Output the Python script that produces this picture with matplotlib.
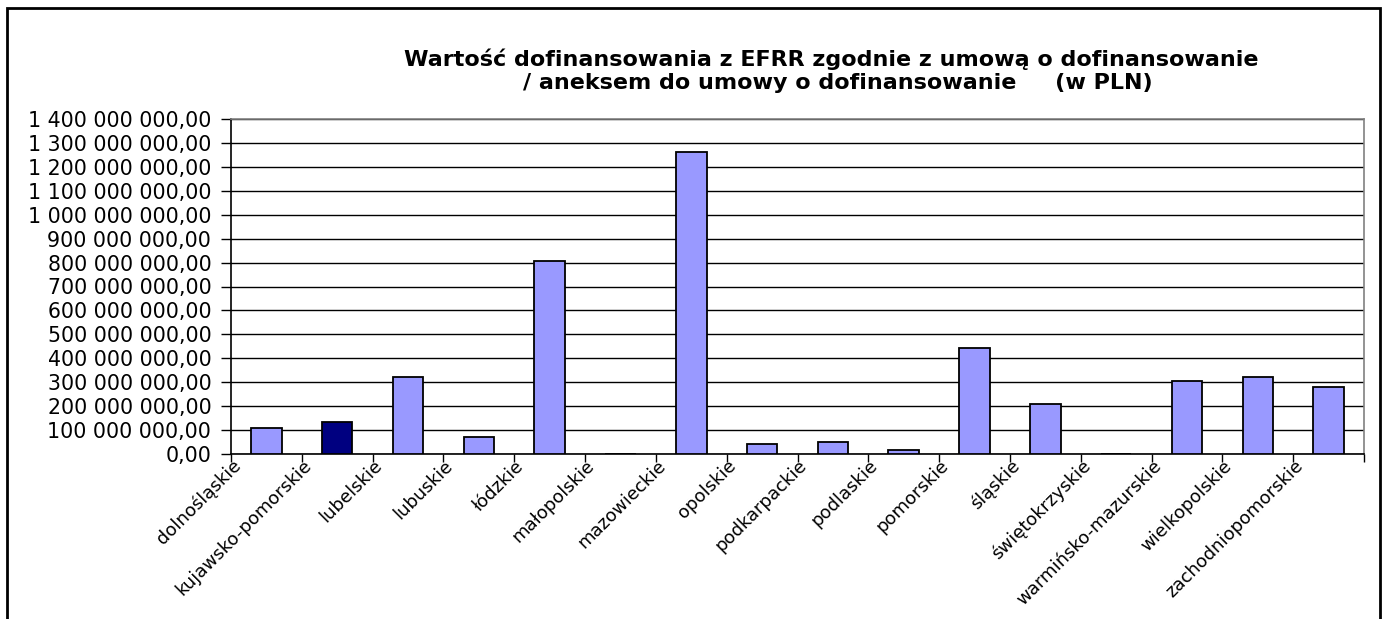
import numpy as np
import matplotlib
matplotlib.use('Agg')
import matplotlib.pyplot as plt
import matplotlib.transforms as mtransforms
from matplotlib.patches import Rectangle
from matplotlib.ticker import FuncFormatter, MultipleLocator

# voivodeships and EFRR co-financing values (PLN)
regions = ['dolnośląskie', 'kujawsko-pomorskie', 'lubelskie', 'lubuskie', 'łódzkie',
           'małopolskie', 'mazowieckie', 'opolskie', 'podkarpackie', 'podlaskie',
           'pomorskie', 'śląskie', 'świętokrzyskie', 'warmińsko-mazurskie',
           'wielkopolskie', 'zachodniopomorskie']
values = [109e6, 134e6, 322e6, 69e6, 807e6,
          0, 1263e6, 40e6, 50e6, 15e6,
          444e6, 208e6, 0, 304e6,
          323e6, 279e6]
highlight = 'kujawsko-pomorskie'

title1 = 'Wartość dofinansowania z EFRR zgodnie z umową o dofinansowanie'
title2 = '/ aneksem do umowy o dofinansowanie     (w PLN)'

W, H = 1385, 619
fig = plt.figure(figsize=(W / 100, H / 100), dpi=100)
fig.patch.set_facecolor('white')

# outer chart frame (bottom edge lies outside the picture)
fig.add_artist(Rectangle((7 / W, -0.05), (1380 - 7) / W, 1.05 - 8 / H,
                         transform=fig.transFigure, fill=False,
                         edgecolor='black', linewidth=2))

ax = fig.add_axes([231 / W, 1 - 454 / H, (1364 - 231) / W, (454 - 119) / H])

x = np.arange(len(regions)) + 0.5
colors = ['#000080' if r == highlight else '#9999FF' for r in regions]
ax.bar(x, values, width=0.43, color=colors, edgecolor='black', linewidth=1.3, zorder=3)

ax.set_xlim(0, len(regions))
ax.set_ylim(0, 1.4e9)
ax.yaxis.set_major_locator(MultipleLocator(1e8))
ax.yaxis.set_major_formatter(FuncFormatter(
    lambda v, p: f'{v:,.2f}'.replace(',', ' ').replace('.', ',')))
ax.grid(axis='y', color='black', linewidth=1, zorder=0)

ax.set_xticks(np.arange(len(regions) + 1))
ax.set_xticklabels(regions + [''], rotation=45, ha='right', va='center',
                   rotation_mode='anchor', fontsize=13)
ax.tick_params(axis='x', direction='out', length=6, width=1, pad=2)
ax.tick_params(axis='y', direction='out', length=7.2, width=1, pad=7, labelsize=14.8)

# nudge the rotated labels a little to the right, as in the original
shift = mtransforms.ScaledTranslation(7 / 100, 2 / 100, fig.dpi_scale_trans)
for lab in ax.get_xticklabels():
    lab.set_transform(lab.get_transform() + shift)

for spine in ['left', 'bottom']:
    ax.spines[spine].set_color('black')
    ax.spines[spine].set_linewidth(1.2)
for spine in ['top', 'right']:
    ax.spines[spine].set_color('#808080')
    ax.spines[spine].set_linewidth(1.2)

fig.text(831 / W, 1 - 66 / H, title1, ha='center', va='baseline',
         fontsize=16, fontweight='bold')
fig.text(838 / W, 1 - 89 / H, title2, ha='center', va='baseline',
         fontsize=16, fontweight='bold')

fig.savefig('out.png', dpi=100, facecolor='white')
